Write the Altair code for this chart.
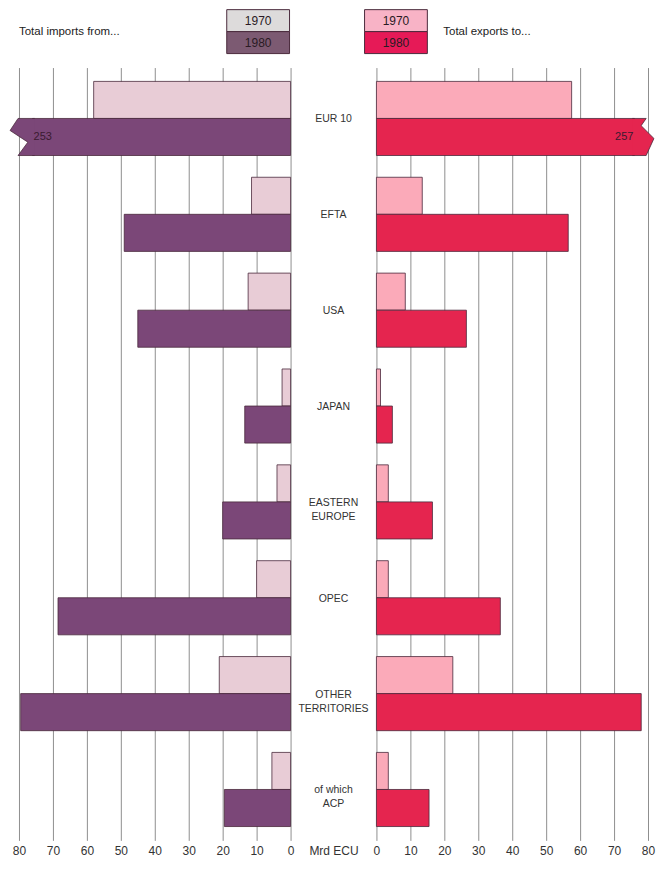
import altair as alt
import pandas as pd

# ---------------- data ----------------
categories = ["EUR 10", "EFTA", "USA", "JAPAN", "EASTERN EUROPE", "OPEC",
              "OTHER TERRITORIES", "of which ACP"]
category_labels = ["EUR 10", "EFTA", "USA", "JAPAN", "EASTERN\nEUROPE", "OPEC",
                   "OTHER\nTERRITORIES", "of which\nACP"]
years = ["1970", "1980"]
imports_1970 = [58, 11.5, 12.5, 2.5, 4, 10, 21, 5.5]
imports_1980 = [253, 49, 45, 13.5, 20, 68.5, 79.5, 19.5]
exports_1970 = [57.5, 13.5, 8.5, 1.2, 3.5, 3.5, 22.5, 3.5]
exports_1980 = [257, 56.5, 26.5, 4.7, 16.5, 36.5, 78, 15.5]
tick_values = [0, 10, 20, 30, 40, 50, 60, 70, 80]

# ---------------- layout / style constants ----------------
W, H = 630, 774
MAXV = 80         # axis maximum
GAP = round(W / 3.4 / 2 - MAXV, 3)   # half width of centre column (in Mrd ECU units)
CAP = 76          # where the body of an off-scale bar stops
LABEL_AT = 73     # where off-scale values are written
FONT = "Liberation Sans"
STROKE = "#4a2a3c"
COLORS = {
    "imports 1970": "#e8ccd6",
    "imports 1980": "#7b4778",
    "exports 1970": "#fbaab9",
    "exports 1980": "#e5254f",
}
LEG_COLORS = {
    "imports 1970": "#dddbdb",
    "imports 1980": "#7c5a72",
    "exports 1970": "#f8b3c6",
    "exports 1980": "#e61a57",
}
LEFT_PATH = "M 0.85 -1 L -0.05 -1 L -0.48 -0.35 L 0.48 0.28 L -0.05 1 L 0.85 1"
RIGHT_PATH = "M -0.85 -1 L -0.1 -1 L -0.37 -0.61 L 0.32 0.08 L -0.1 1 L -0.85 1"
P_IN, P_OUT = 0.2268, 0.1443
SUB = H / (len(categories) - P_IN + 2 * P_OUT) * (1 - P_IN) / 2   # height of one bar
ARROW_SIZE = round(SUB * SUB)

rows = []
series = {("imports", "1970"): imports_1970, ("imports", "1980"): imports_1980,
          ("exports", "1970"): exports_1970, ("exports", "1980"): exports_1980}
for (side, yr), vals in series.items():
    for cat, v in zip(categories, vals):
        rows.append({"category": cat, "side": side, "year": yr, "value": v,
                     "key": f"{side} {yr}"})
df = pd.DataFrame(rows)
cat_df = pd.DataFrame({"category": categories, "label": category_labels})

xscale = alt.Scale(domain=[-(GAP + MAXV), GAP + MAXV], nice=False, zero=False)
axis_values = [-(GAP + t) for t in reversed(tick_values)] + [0] + [GAP + t for t in tick_values]
x_axis = alt.Axis(values=axis_values, title=None,
                  labelExpr=f"datum.value == 0 ? 'Mrd ECU' : format(abs(datum.value) - {GAP}, '.0f')",
                  grid=True, gridColor="#8f8f8f", gridWidth=1,
                  gridOpacity={"condition": {"test": "datum.value == 0", "value": 0}, "value": 1},
                  domain=False, ticks=False, labelPadding=5, labelFontSize=12,
                  labelColor="#333333", labelFont=FONT, labelFlush=False,
                  labelOverlap=False)

yenc = alt.Y("category:N", sort=categories, axis=None,
             scale=alt.Scale(domain=categories, paddingInner=P_IN,
                             paddingOuter=P_OUT, align=0.5))
yoff = alt.YOffset("year:N", sort=years,
                   scale=alt.Scale(domain=years, paddingInner=0, paddingOuter=0))

base = alt.Chart(df).transform_calculate(
    sgn="datum.side == 'imports' ? -1 : 1",
).transform_calculate(
    disp=f"datum.value > {MAXV} ? {CAP} : datum.value",
    u0=f"datum.sgn * {GAP}",
    edge=f"datum.sgn * ({GAP} + {MAXV})",
    tx=f"datum.sgn * ({GAP} + {LABEL_AT})",
).transform_calculate(
    u1=f"datum.sgn * ({GAP} + datum.disp)"
)

bars = base.mark_bar(stroke=STROKE, strokeWidth=0.8).encode(
    x=alt.X("u0:Q", scale=xscale, axis=x_axis),
    x2="u1:Q",
    y=yenc,
    yOffset=yoff,
    color=alt.Color("key:N", scale=alt.Scale(domain=list(COLORS), range=list(COLORS.values())),
                    legend=None),
)

arrow_l = base.transform_filter(
    f"datum.side == 'imports' && datum.value > {MAXV}"
).mark_point(shape=LEFT_PATH, size=ARROW_SIZE, filled=True, opacity=1,
             fill=COLORS["imports 1980"], stroke=STROKE, strokeWidth=0.8).encode(
    x=alt.X("edge:Q", scale=xscale, axis=x_axis), y=yenc, yOffset=yoff)

arrow_r = base.transform_filter(
    f"datum.side == 'exports' && datum.value > {MAXV}"
).mark_point(shape=RIGHT_PATH, size=ARROW_SIZE, filled=True, opacity=1,
             fill=COLORS["exports 1980"], stroke=STROKE, strokeWidth=0.8).encode(
    x=alt.X("edge:Q", scale=xscale, axis=x_axis), y=yenc, yOffset=yoff)

over_txt = base.transform_filter(f"datum.value > {MAXV}").mark_text(
    font=FONT, fontSize=11, color="#3a1a30").encode(
    x=alt.X("tx:Q", scale=xscale, axis=x_axis), y=yenc, yOffset=yoff,
    text=alt.Text("value:Q", format="d"))

cat_txt = alt.Chart(cat_df).mark_text(
    font=FONT, fontSize=10.5, color="#333333", lineBreak="\n", baseline="middle", dy=1,
    lineHeight=14).encode(
    x=alt.datum(0, scale=xscale, axis=x_axis), y=yenc, text="label:N")

main = alt.layer(bars, arrow_l, arrow_r, over_txt, cat_txt).properties(width=W, height=H)

# ---------------- legend row ----------------
IMP_BOX = (-(GAP + 18.8), -GAP - 0.3)
EXP_BOX = (GAP - 3.5, GAP + 15.0)
leg_rows = []
for side, box in (("imports", IMP_BOX), ("exports", EXP_BOX)):
    for yr in years:
        k = f"{side} {yr}"
        leg_rows.append({"key": k, "year": yr, "x0": box[0], "x1": box[1],
                         "xm": (box[0] + box[1]) / 2, "fill": LEG_COLORS[k]})
leg_df = pd.DataFrame(leg_rows)
titles_df = pd.DataFrame({"text": ["Total imports from...", "Total exports to..."],
                          "x": [-(GAP + MAXV), GAP + 19.7]})

lyenc = alt.Y("year:N", sort=years, axis=None,
              scale=alt.Scale(domain=years, paddingInner=0, paddingOuter=0))
lxscale = alt.Scale(domain=[-(GAP + MAXV), GAP + MAXV], nice=False, zero=False)

leg_boxes = alt.Chart(leg_df).mark_rect(stroke=STROKE, strokeWidth=1).encode(
    x=alt.X("x0:Q", scale=lxscale, axis=None), x2="x1:Q", y=lyenc,
    fill=alt.Fill("fill:N", scale=None))
leg_text = alt.Chart(leg_df).mark_text(font=FONT, fontSize=12, color="#2a1a24").encode(
    x=alt.X("xm:Q", scale=lxscale, axis=None), y=lyenc, text="year:N")
leg_titles = alt.Chart(titles_df).mark_text(font=FONT, fontSize=11.5, color="#222222",
                                            align="left", baseline="middle").encode(
    x=alt.X("x:Q", scale=lxscale, axis=None), text="text:N")

legend = alt.layer(leg_boxes, leg_text, leg_titles).properties(width=W, height=44)

chart = alt.vconcat(legend, main, spacing=14, bounds="flush").properties(
    padding={"left": 0, "top": 0, "right": 0, "bottom": 0}
).configure_view(stroke=None)

chart.save("out.html", embed_options={"renderer": "svg", "actions": False})
